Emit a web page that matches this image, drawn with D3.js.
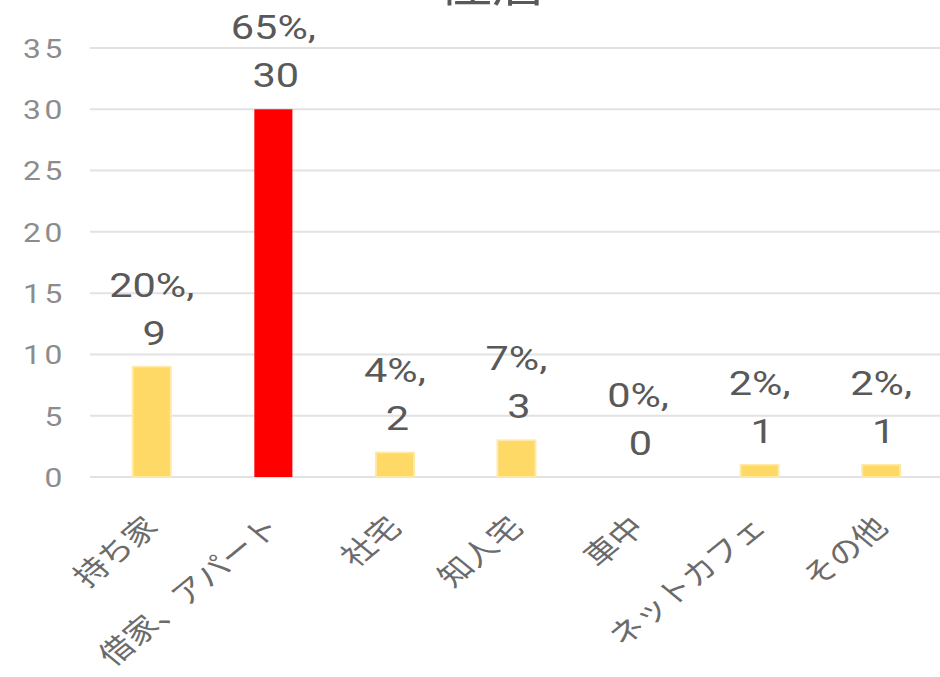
<!DOCTYPE html>
<html>
<head>
<meta charset="utf-8">
<script src="https://cdn.jsdelivr.net/npm/d3@7"></script>
<style>
  html, body { margin: 0; padding: 0; background: #fff; }
  svg { display: block; }
</style>
</head>
<body>
<svg id="chart" width="940" height="677"></svg>
<script>
// Housing situation: count of respondents per category, with share of total
const categories = ["持ち家", "借家、アパート", "社宅", "知人宅", "車中", "ネットカフェ", "その他"];
const counts = [9, 30, 2, 3, 0, 1, 1];
const percents = [20, 65, 4, 7, 0, 2, 2];
const yTicks = [0, 5, 10, 15, 20, 25, 30, 35];
const title = "住居";

// The whole chart is drawn in a narrower frame and widened horizontally
const SX = 1.22;
const W = 940, H = 677;
const innerW = W / SX;

const svg = d3.select("#chart");
const root = svg.append("g").attr("transform", `scale(${SX},1)`);

const plot = { left: 91 / SX, right: 942 / SX, top: 48, bottom: 477 };

const x = d3.scaleBand()
  .domain(categories)
  .range([plot.left, plot.right])
  .paddingInner(0.687)
  .paddingOuter(0.3435);

const y = d3.scaleLinear()
  .domain([0, 35])
  .range([plot.bottom, plot.top]);

const numFont = "Roboto, 'Liberation Sans', Arial, sans-serif";
const jpFont = "'Noto Sans CJK JP', 'Noto Sans', sans-serif";

// Title (sits partly above the visible area)
root.append("text")
  .attr("x", 492 / SX)
  .attr("y", 2)
  .attr("text-anchor", "middle")
  .attr("font-family", jpFont)
  .attr("font-size", 44)
  .attr("fill", "#595959")
  .text(title);

// Horizontal gridlines
root.append("g")
  .selectAll("line")
  .data(yTicks)
  .join("line")
  .attr("x1", 90 / SX)
  .attr("x2", innerW)
  .attr("y1", d => y(d))
  .attr("y2", d => y(d))
  .attr("stroke", "#e2e2e2")
  .attr("stroke-width", 2);

// Y axis labels via d3 axis, domain and ticks hidden
root.append("g")
  .attr("transform", "translate(54,0)")
  .call(d3.axisLeft(y).tickValues(yTicks).tickSize(0).tickPadding(0))
  .call(g => g.select(".domain").remove())
  .selectAll("text")
  .attr("font-family", numFont)
  .attr("font-size", 26)
  .attr("letter-spacing", 3)
  .attr("fill", "#8c8c8c")
  .attr("dy", "0.36em");

// Bars: the largest category is highlighted in red
const maxVal = d3.max(counts);
const data = categories.map((c, i) => ({ c, v: counts[i], p: percents[i] }));

root.append("g")
  .selectAll("rect")
  .data(data)
  .join("rect")
  .attr("x", d => x(d.c))
  .attr("width", x.bandwidth())
  .attr("y", d => y(d.v))
  .attr("height", d => y(0) - y(d.v))
  .attr("fill", d => d.v === maxVal ? "#ff0000" : "#ffd966")
  .attr("stroke", d => d.v === maxVal ? "none" : "#ffe9a8")
  .attr("stroke-width", d => d.v > 0 ? 1.6 : 0);

// Data labels: "percent%," on the first line, count on the second
const labels = root.append("g")
  .selectAll("text")
  .data(data)
  .join("text")
  .attr("text-anchor", "middle")
  .attr("font-family", numFont)
  .attr("font-size", 34)
  .attr("fill", "#595959");
labels.append("tspan")
  .attr("x", d => x(d.c) + x.bandwidth() / 2)
  .attr("y", d => y(d.v) - 70)
  .text(d => d.p + "%,");
labels.append("tspan")
  .attr("x", d => x(d.c) + x.bandwidth() / 2 + 2)
  .attr("y", d => y(d.v) - 22)
  .text(d => d.v);

// Category labels, rotated 45° before the horizontal widening
root.append("g")
  .selectAll("text")
  .data(categories)
  .join("text")
  .attr("transform", d => `translate(${x(d) + x.bandwidth() / 2 + 7},${plot.bottom + 52}) rotate(-45)`)
  .attr("text-anchor", "end")
  .attr("font-family", jpFont)
  .attr("font-size", 28)
  .attr("fill", "#6b6b6b")
  .text(d => d);
</script>
</body>
</html>
